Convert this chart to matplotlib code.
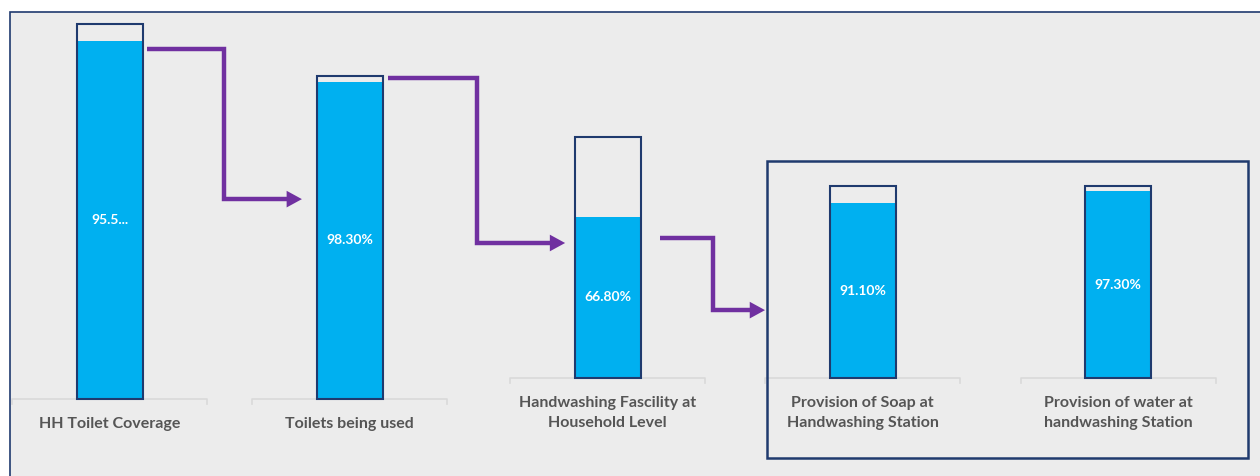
import matplotlib.pyplot as plt
from matplotlib.patches import Rectangle

# Stages of the sanitation / hygiene cascade
categories = ['HH Toilet Coverage', 'Toilets being used',
              'Handwashing Fascility at\nHousehold Level',
              'Provision of Soap at\nHandwashing Station',
              'Provision of water at\nhandwashing Station']
container = [100, 86.1, 64.3, 51.2, 51.2]     # height of each outline column
pct = [95.5, 98.3, 66.8, 91.1, 97.3]          # share of the column that is filled
value_labels = ['95.5...', '98.30%', '66.80%', '91.10%', '97.30%']

# layout: column slots and baselines (handwashing stages sit a bit higher)
xpos = [0.05, 0.99, 2.0, 3.0, 4.0]
base = [0, 0, 5.6, 5.6, 5.6]

NAVY = '#1f3a6e'
BLUE = '#00b0f0'
PURPLE = '#7030a0'
PANEL = '#ececec'
GREY_TXT = '#555555'

W, H = 1260, 476
fig = plt.figure(figsize=(W / 100, H / 100), dpi=100)
fig.patch.set_facecolor('white')

# panel behind the chart (page crop leaves a white strip on top)
fig.patches.append(Rectangle((10 / W, -0.1), 1.1, (H - 12) / H + 0.1,
                             transform=fig.transFigure, facecolor=PANEL,
                             edgecolor=NAVY, linewidth=1.2, zorder=-1))

ax = fig.add_axes([0, 0, 1, 1])
ax.set_facecolor('none')
px_x, px_y, x0 = 255.3, 3.75, 96.9
ax.set_xlim(-x0 / px_x, (W - x0) / px_x)
ax.set_ylim(-(H - 399) / px_y, 399 / px_y)
ax.axis('off')

bw = 66 / px_x
filled = [c * p / 100 for c, p in zip(container, pct)]

ax.bar(xpos, filled, bottom=base, width=bw, color=BLUE, edgecolor='none',
       zorder=2)
ax.bar(xpos, container, bottom=base, width=bw, facecolor='none',
       edgecolor=NAVY, linewidth=1.5, zorder=3)

for xi, b, f, lab in zip(xpos, base, filled, value_labels):
    ax.text(xi, b + f / 2, lab, ha='center', va='center', color='white',
            fontsize=10, fontweight='bold', family='Lato', zorder=4)

# category brackets and labels
half = 97.5 / px_x
tick = 5 / px_y
for xi, b, cat in zip(xpos, base, categories):
    ax.plot([xi - half, xi - half, xi + half, xi + half],
            [b - tick, b, b, b - tick], color='#d9d9d9', lw=1.2, zorder=1)
    ax.text(xi, b - 4.8, cat, ha='center', va='top', color=GREY_TXT,
            fontsize=11.5, fontweight='bold', family='Lato',
            linespacing=1.58, zorder=4)

# step arrows between the stages
arrows = [
    [(0.196, 93.3), (0.498, 93.3), (0.498, 53.3), (0.803, 53.3)],
    [(1.140, 85.6), (1.489, 85.6), (1.489, 41.6), (1.834, 41.6)],
    [(2.206, 42.9), (2.413, 42.9), (2.413, 23.7), (2.617, 23.7)],
]
for pts in arrows:
    xs = [p[0] for p in pts[:-1]] + [pts[-1][0] - 0.04]
    ys = [p[1] for p in pts]
    ax.plot(xs, ys, color=PURPLE, lw=3.2, solid_joinstyle='miter',
            solid_capstyle='butt', zorder=3)
    ax.annotate('', xy=pts[-1], xytext=pts[-2],
                arrowprops=dict(arrowstyle='-|>,head_length=11,head_width=6',
                                mutation_scale=1, color=PURPLE, lw=0,
                                shrinkA=0, shrinkB=0), zorder=3)

# box around the two handwashing-station stages
ax.add_patch(Rectangle(((767 - x0) / px_x, (399 - 458) / px_y),
                       (1248 - 767) / px_x, (458 - 161) / px_y,
                       facecolor='none', edgecolor=NAVY, linewidth=1.8,
                       zorder=3, clip_on=False))

fig.savefig('out.png', dpi=100)
